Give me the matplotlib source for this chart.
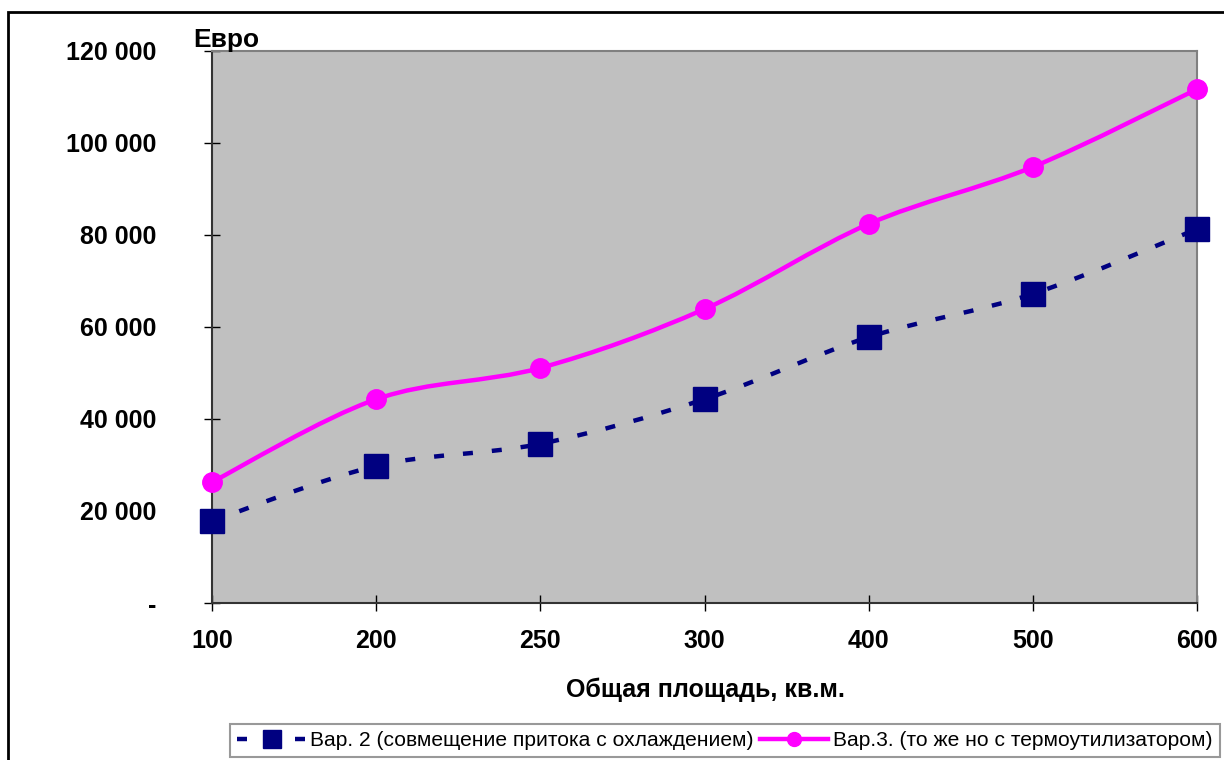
import matplotlib
matplotlib.use("Agg")
import matplotlib.pyplot as plt
from matplotlib.path import Path
from matplotlib.patches import PathPatch, Rectangle
from matplotlib.lines import Line2D
from matplotlib.ticker import FixedLocator, FuncFormatter

plt.rcParams['font.family'] = ['Liberation Sans', 'DejaVu Sans']

# Data
areas = ["100", "200", "250", "300", "400", "500", "600"]
var2_cost = [17800, 29800, 34600, 44300, 57800, 67200, 81300]
var3_cost = [26300, 44300, 51100, 63900, 82400, 94800, 111700]
series_labels = ["Вар. 2 (совмещение притока с охлаждением)",
                 "Вар.3. (то же но с термоутилизатором)"]
y_label = "Евро"
x_label = "Общая площадь, кв.м."

NAVY = "#000080"
MAGENTA = "#FF00FF"


def smooth_path(xs, ys):
    """Cardinal (Catmull-Rom) Bezier path through the given points."""
    pts = list(zip(xs, ys))
    n = len(pts)
    verts = [pts[0]]
    codes = [Path.MOVETO]
    for i in range(n - 1):
        p0 = pts[i - 1] if i > 0 else pts[i]
        p1 = pts[i]
        p2 = pts[i + 1]
        p3 = pts[i + 2] if i + 2 < n else pts[i + 1]
        c1 = (p1[0] + (p2[0] - p0[0]) / 6, p1[1] + (p2[1] - p0[1]) / 6)
        c2 = (p2[0] - (p3[0] - p1[0]) / 6, p2[1] - (p3[1] - p1[1]) / 6)
        verts += [c1, c2, p2]
        codes += [Path.CURVE4] * 3
    return Path(verts, codes)


fig = plt.figure(figsize=(12.24, 7.6), dpi=100)
W, H = 1224, 760
left, right, top, bottom = 212, 1197, 51, 603
ax = fig.add_axes([left / W, 1 - bottom / H, (right - left) / W, (bottom - top) / H])
ax.set_facecolor("#C0C0C0")

xs = list(range(len(areas)))
lw = 3.2
dash = (0, (10 * 0.72 / lw, 19 * 0.72 / lw))

ax.add_patch(PathPatch(smooth_path(xs, var2_cost), facecolor="none",
                       edgecolor=NAVY, lw=lw, linestyle=dash,
                       capstyle="butt", zorder=3))
ax.add_patch(PathPatch(smooth_path(xs, var3_cost), facecolor="none",
                       edgecolor=MAGENTA, lw=lw, zorder=3))
ax.plot(xs, var2_cost, linestyle="none", marker="s", ms=17,
        mfc=NAVY, mec=NAVY, zorder=4, clip_on=False)
ax.plot(xs, var3_cost, linestyle="none", marker="o", ms=14,
        mfc=MAGENTA, mec=MAGENTA, zorder=4, clip_on=False)

ax.set_xlim(0, len(areas) - 1)
ax.set_ylim(0, 120000)
ax.xaxis.set_major_locator(FixedLocator(xs))
ax.set_xticklabels(areas)
ax.yaxis.set_major_locator(FixedLocator(range(0, 120001, 20000)))
ax.yaxis.set_major_formatter(FuncFormatter(
    lambda v, p: "-" if v == 0 else f"{int(v):,}".replace(",", " ")))

ax.tick_params(axis="both", direction="inout", length=12, width=1,
               color="#000000", labelsize=18)
ax.tick_params(axis="y", pad=34)
ax.tick_params(axis="x", pad=13)
for lab in ax.get_xticklabels() + ax.get_yticklabels():
    lab.set_fontweight("bold")

for s in ("left", "bottom"):
    ax.spines[s].set_color("#333333")
    ax.spines[s].set_linewidth(1.5)
for s in ("top", "right"):
    ax.spines[s].set_color("#808080")
    ax.spines[s].set_linewidth(1.5)

fig.text(193 / W, 1 - 40 / H, y_label, fontsize=19, fontweight="bold",
         ha="left", va="center")
fig.text(705 / W, 1 - 690 / H, x_label, fontsize=18, fontweight="bold",
         ha="center", va="center")

# Outer chart frame
fig.patches.append(Rectangle((8 / W, -0.05), 1.1, 1 - 12 / H + 0.05,
                             transform=fig.transFigure, fill=False,
                             edgecolor="black", lw=2, zorder=0))

handles = [
    Line2D([], [], color=NAVY, lw=lw, linestyle=dash, marker="s", ms=13,
           mfc=NAVY, mec=NAVY),
    Line2D([], [], color=MAGENTA, lw=lw, marker="o", ms=10,
           mfc=MAGENTA, mec=MAGENTA),
]
leg = fig.legend(handles, series_labels, loc="upper left",
                 bbox_to_anchor=(230 / W, 1 - 723.5 / H), ncol=2,
                 fontsize=15.1, frameon=True, fancybox=False,
                 edgecolor="#808080", handlelength=3.27, handletextpad=0.2,
                 columnspacing=0.3, borderpad=0.35, borderaxespad=0)
leg.get_frame().set_linewidth(1.5)

fig.savefig("out.png", dpi=100)
